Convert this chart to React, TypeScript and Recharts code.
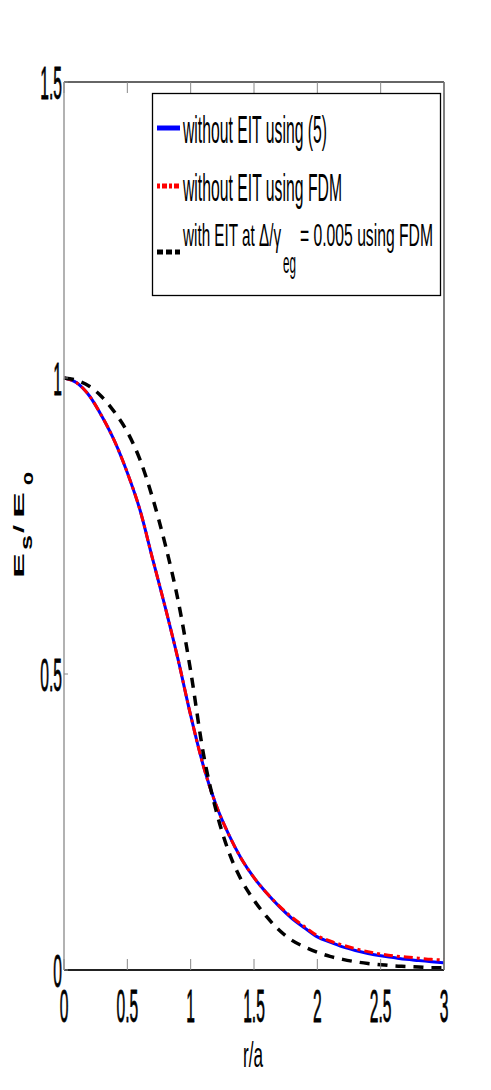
import React from 'react';
import { LineChart, Line, XAxis, YAxis, Legend } from 'recharts';

const R = [0, 0.1, 0.2, 0.3, 0.4, 0.5, 0.6, 0.7, 0.8, 0.9, 1.0, 1.1, 1.2, 1.3, 1.4, 1.5, 1.6, 1.7, 1.8, 1.9, 2.0, 2.1, 2.2, 2.3, 2.4, 2.5, 2.6, 2.7, 2.8, 2.9, 3.0];
const WITHOUT_EIT_EQ5 = [1.0, 0.992, 0.970, 0.935, 0.893, 0.840, 0.777, 0.694, 0.612, 0.525, 0.430, 0.345, 0.279, 0.229, 0.188, 0.156, 0.130, 0.107, 0.087, 0.071, 0.056, 0.047, 0.039, 0.033, 0.028, 0.024, 0.021, 0.018, 0.016, 0.014, 0.012];
const WITHOUT_EIT_FDM = [1.0, 0.992, 0.970, 0.935, 0.893, 0.840, 0.777, 0.694, 0.612, 0.525, 0.430, 0.345, 0.279, 0.229, 0.188, 0.156, 0.130, 0.108, 0.089, 0.073, 0.058, 0.049, 0.042, 0.036, 0.031, 0.027, 0.024, 0.022, 0.020, 0.018, 0.017];
const WITH_EIT_FDM = [1.0, 0.996, 0.986, 0.968, 0.942, 0.909, 0.862, 0.797, 0.718, 0.625, 0.505, 0.366, 0.270, 0.200, 0.152, 0.118, 0.090, 0.067, 0.050, 0.039, 0.030, 0.023, 0.018, 0.014, 0.011, 0.009, 0.007, 0.006, 0.005, 0.004, 0.004];

const X_TICKS = [0, 0.5, 1, 1.5, 2, 2.5, 3];
const X_TICK_LABELS = ['0', '0.5', '1', '1.5', '2', '2.5', '3'];
const Y_TICKS = [0, 0.5, 1, 1.5];
const Y_TICK_LABELS = ['0', '0.5', '1', '1.5'];

const SERIES_NAMES = ['without EIT using (5)', 'without EIT using FDM', 'with EIT at Δ/γ'];
const X_LABEL = 'r/a';

const data = R.map((r, i) => ({
  r,
  eq5: WITHOUT_EIT_EQ5[i],
  fdm: WITHOUT_EIT_FDM[i],
  eit: WITH_EIT_FDM[i],
}));

const FONT = '"Liberation Sans", Arial, Helvetica, sans-serif';

const labelFor = (ticks: number[], labels: string[], v: number) => {
  const i = ticks.findIndex((t) => Math.abs(t - v) < 1e-9);
  return i >= 0 ? labels[i] : String(v);
};

const BottomTick = (props: any) => {
  const { x, y, payload } = props;
  const lbl = labelFor(X_TICKS, X_TICK_LABELS, payload.value);
  return (
    <g>
      <line x1={x} y1={y} x2={x} y2={y - 11} stroke="#888" strokeWidth={1} />
      <g transform={`translate(${x},${y + 52}) scale(0.34,1)`}>
        <text textAnchor="middle" fontSize={46} fontFamily={FONT} fill="#000" stroke="#000" strokeWidth={0.8}>{lbl}</text>
      </g>
    </g>
  );
};

const TopTick = (props: any) => {
  const { x, y } = props;
  return <line x1={x} y1={y} x2={x} y2={y + 11} stroke="#888" strokeWidth={1} />;
};

const LeftTick = (props: any) => {
  const { x, y, payload } = props;
  const lbl = labelFor(Y_TICKS, Y_TICK_LABELS, payload.value);
  return (
    <g>
      <line x1={x} y1={y} x2={x + 4} y2={y} stroke="#888" strokeWidth={1} />
      <g transform={`translate(${x - 2},${y + 17}) scale(0.34,1)`}>
        <text textAnchor="end" fontSize={46} fontFamily={FONT} fill="#000" stroke="#000" strokeWidth={0.8}>{lbl}</text>
      </g>
    </g>
  );
};

const RightTick = (props: any) => {
  const { x, y } = props;
  return <line x1={x} y1={y} x2={x - 4} y2={y} stroke="#666" strokeWidth={1} />;
};

const YLabel = () => (
  <g transform="translate(24,578) rotate(-90)" fontFamily={FONT} fontWeight="bold" fill="#000">
    <text x={0} y={0} fontSize={15.5} textLength={25} lengthAdjust="spacingAndGlyphs">E</text>
    <text x={28} y={8} fontSize={16} textLength={15} lengthAdjust="spacingAndGlyphs">s</text>
    <text x={45} y={0} fontSize={15.5} textLength={8} lengthAdjust="spacingAndGlyphs">/</text>
    <text x={60} y={0} fontSize={15.5} textLength={26} lengthAdjust="spacingAndGlyphs">E</text>
    <text x={93} y={9} fontSize={16} textLength={13} lengthAdjust="spacingAndGlyphs">o</text>
  </g>
);

const XLabel = () => (
  <text x={253} y={1067} textAnchor="middle" fontSize={35} fontFamily={FONT} fill="#000"
    textLength={20} lengthAdjust="spacingAndGlyphs">{X_LABEL}</text>
);

const LegendBox = () => (
  <svg width={491} height={1090} style={{ display: 'block', pointerEvents: 'none' }}>
    <g fontFamily={FONT} fill="#000">
      <rect x={152.5} y={93.5} width={288} height={202} fill="#fff" stroke="#000" strokeWidth={1.3} />
      <line x1={157} y1={128} x2={180} y2={128} stroke="#0000ff" strokeWidth={5} />
      <text x={183} y={143} fontSize={38} textLength={144} lengthAdjust="spacingAndGlyphs">{SERIES_NAMES[0]}</text>
      <line x1={157} y1={186} x2={180} y2={186} stroke="#ff0000" strokeWidth={5} strokeDasharray="3 2 5 2 3 2 5" />
      <text x={183} y={201} fontSize={38} textLength={159} lengthAdjust="spacingAndGlyphs">{SERIES_NAMES[1]}</text>
      <line x1={157} y1={252} x2={180} y2={252} stroke="#000" strokeWidth={5} strokeDasharray="6 3" />
      <text x={183} y={246} fontSize={32} textLength={98} lengthAdjust="spacingAndGlyphs">{SERIES_NAMES[2]}</text>
      <text x={283} y={273} fontSize={30} textLength={13} lengthAdjust="spacingAndGlyphs">eg</text>
      <text x={300} y={246} fontSize={32} textLength={133} lengthAdjust="spacingAndGlyphs">= 0.005 using FDM</text>
    </g>
  </svg>
);

export default function App() {
  return (
    <div style={{ position: 'absolute', left: 0, top: 0, width: 491, height: 1090, background: '#fff' }}>
      <LineChart width={491} height={1090} data={data} margin={{ top: 52, right: 17, bottom: 90, left: 34 }}>
        <XAxis
          xAxisId={0}
          dataKey="r"
          type="number"
          domain={[0, 3]}
          ticks={X_TICKS}
          interval={0}
          height={30}
          tickSize={0}
          tickMargin={0}
          tickLine={false}
          axisLine={{ stroke: '#222', strokeWidth: 2 }}
          tick={<BottomTick />}
          label={{ content: () => <XLabel /> }}
        />
        <XAxis
          xAxisId="top"
          orientation="top"
          dataKey="r"
          type="number"
          domain={[0, 3]}
          ticks={X_TICKS}
          interval={0}
          height={30}
          tickSize={0}
          tickMargin={0}
          tickLine={false}
          axisLine={{ stroke: '#333', strokeWidth: 1.5 }}
          tick={<TopTick />}
        />
        <YAxis
          yAxisId={0}
          type="number"
          domain={[0, 1.5]}
          ticks={Y_TICKS}
          interval={0}
          width={30}
          tickSize={0}
          tickMargin={0}
          tickLine={false}
          axisLine={{ stroke: '#999', strokeWidth: 1.5 }}
          tick={<LeftTick />}
          label={{ content: () => <YLabel /> }}
        />
        <YAxis
          yAxisId="right"
          orientation="right"
          type="number"
          domain={[0, 1.5]}
          ticks={Y_TICKS}
          interval={0}
          width={30}
          tickSize={0}
          tickMargin={0}
          tickLine={false}
          axisLine={{ stroke: '#555', strokeWidth: 1.5 }}
          tick={<RightTick />}
        />
        <Line xAxisId={0} yAxisId={0} type="monotone" dataKey="eq5" stroke="#0000ff" strokeWidth={3} dot={false} isAnimationActive={false} />
        <Line xAxisId={0} yAxisId={0} type="monotone" dataKey="fdm" stroke="#ff0000" strokeWidth={3} strokeDasharray="9 4 3 4" dot={false} isAnimationActive={false} />
        <Line xAxisId={0} yAxisId={0} type="monotone" dataKey="eit" stroke="#000" strokeWidth={3.5} strokeDasharray="10 8" dot={false} isAnimationActive={false} />
        <Legend
          layout="vertical"
          align="center"
          verticalAlign="middle"
          content={() => <LegendBox />}
          wrapperStyle={{ left: 0, top: 0, width: 491, height: 1090, margin: 0, pointerEvents: 'none' }}
        />
      </LineChart>
    </div>
  );
}
